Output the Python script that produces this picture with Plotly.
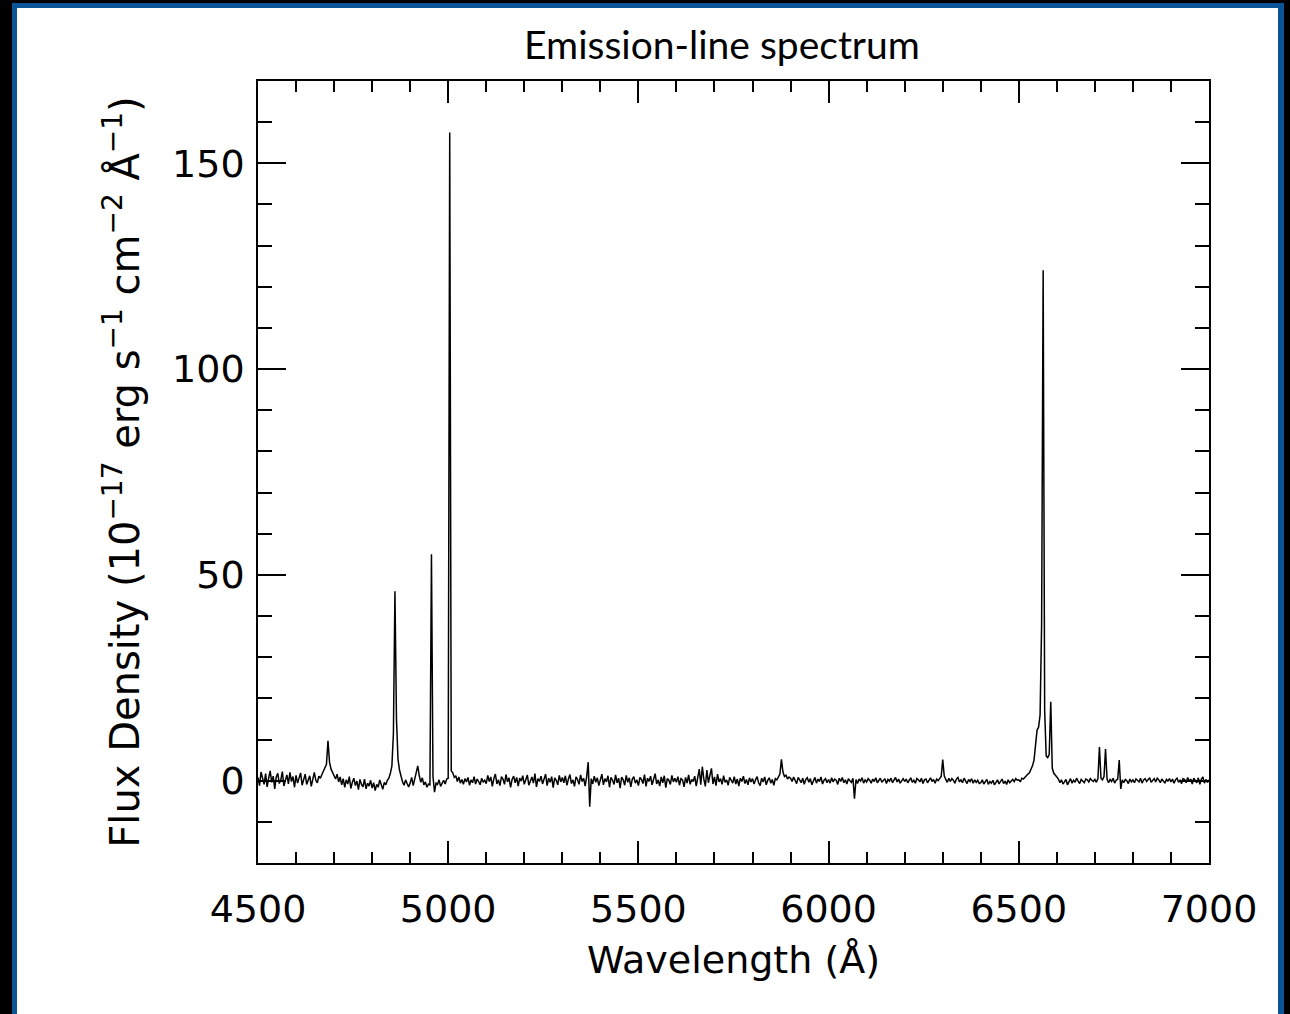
import plotly.graph_objects as go

# ---------------- data ----------------
wave_start = 4500.0   # Angstrom
wave_step = 4.0       # Angstrom per sample

flux = [
    # 4500-4596
    0.8,-1.2,2.1,0.3,-0.9,1.7,-1.5,0.6,2.4,-0.4,1.1,-2.0,0.9,1.8,-0.7,0.2,2.2,-1.3,0.5,1.4,-0.8,2.0,-0.2,1.0,-1.6,
    # 4600-4696
    1.3,-0.6,0.4,1.9,-1.1,0.7,1.6,-0.9,0.2,1.2,-1.4,0.8,2.0,0.1,-0.5,1.1,0.6,1.5,2.3,2.9,4.0,9.7,4.5,2.8,1.9,
    # 4700-4796
    1.2,0.4,1.6,-0.3,0.9,-1.0,0.5,-1.6,0.2,-0.8,1.0,-1.9,-0.4,0.6,-1.2,-0.1,-2.2,0.3,-0.9,-1.5,0.4,-2.0,-0.6,-1.3,0.1,
    # 4800-4896
    -1.8,-0.5,-2.4,-0.9,-1.6,0.2,-1.3,-2.1,-0.4,-1.0,0.1,0.6,1.8,3.6,11.5,46.0,15.0,5.2,2.6,0.9,-0.3,-1.1,0.2,-0.7,-1.5,
    # 4900-4996
    -0.6,0.8,-1.2,0.3,1.9,3.6,1.2,-0.4,0.7,-1.0,-0.3,-1.6,-0.8,-1.0,55.0,1.0,-2.8,-0.6,-0.9,0.2,-1.4,-0.6,0.1,-0.8,0.4,
    # 5000-5096
    0.6,157.5,2.4,1.9,0.8,1.2,-0.2,0.9,-0.6,0.3,-0.9,0.5,-0.3,0.8,-1.1,0.2,-0.5,1.0,-0.8,0.4,-0.2,-1.0,0.6,-0.4,0.1,
    # 5100-5196
    -0.7,1.3,-0.2,0.9,-1.4,0.5,1.6,-0.8,0.2,-1.2,1.0,0.4,-0.9,1.5,-0.3,0.7,-1.6,0.3,1.1,-0.5,0.8,-1.3,0.6,-0.1,1.2,
    # 5200-5296
    -0.9,0.4,1.4,-1.1,0.2,0.9,-0.6,1.7,-1.5,0.5,-0.2,1.1,-0.8,0.3,1.6,-1.2,0.6,-0.4,1.0,-1.7,0.7,0.1,-1.0,1.3,-0.3,
    # 5300-5396
    0.8,-0.5,1.2,-1.1,0.4,1.5,-0.7,0.2,-1.4,0.9,0.3,-0.9,1.4,-0.2,0.6,-1.3,1.0,4.5,-6.3,0.5,-0.8,1.1,-0.4,0.7,-1.2,
    # 5400-5496
    0.3,1.6,-1.0,0.5,-0.3,1.2,-1.6,0.8,0.1,-0.9,1.4,-0.5,0.6,-1.8,0.9,0.2,-1.1,1.3,-0.4,0.7,-1.5,0.4,1.0,-0.6,0.2,
    # 5500-5596
    -1.2,0.8,0.3,-0.7,1.5,-1.4,0.6,-0.2,1.1,-1.0,0.4,1.7,-0.8,0.2,-1.3,0.9,-0.5,1.2,-1.7,0.5,0.1,-0.9,1.3,-0.3,0.6,
    # 5600-5696
    -0.4,1.0,-1.1,0.5,0.2,-1.5,0.8,-0.6,1.4,-0.9,0.3,-0.2,1.1,-1.3,0.7,2.8,-1.0,3.4,0.4,-1.4,2.6,-0.5,1.3,3.0,-0.8,
    # 5700-5796
    0.9,-1.2,1.6,-0.3,0.5,-0.9,1.2,-0.4,0.2,-1.1,0.8,0.1,-0.6,1.0,-0.8,0.4,-1.3,0.6,-0.2,1.1,-0.7,0.3,-1.0,0.7,-0.3,
    # 5800-5896
    0.5,-0.8,0.2,1.0,-0.5,-1.2,0.6,-0.3,0.9,-1.0,0.1,0.7,-0.6,0.3,-1.1,0.5,0.2,0.9,1.6,5.2,2.1,1.0,1.3,0.4,0.9,
    # 5900-5996
    0.6,-0.2,0.9,0.2,-0.7,0.8,0.1,-0.5,0.6,-0.9,0.3,0.7,-0.4,0.5,-1.0,0.2,0.8,-0.6,0.4,-0.2,0.9,-0.8,0.1,0.5,-0.5,
    # 6000-6096
    0.3,-0.6,0.7,-0.3,0.4,0.1,-0.9,0.6,-0.2,0.8,-0.5,0.2,-0.8,0.5,0.0,-0.4,0.6,-4.4,0.3,-0.7,0.4,-0.1,0.7,-0.6,0.2,
    # 6100-6196
    -0.3,0.5,0.1,-0.6,0.4,-0.2,0.7,-0.5,0.2,0.6,-0.4,0.0,0.5,-0.7,0.3,-0.1,0.6,-0.5,0.2,0.8,-0.3,0.4,-0.6,0.1,0.5,
    # 6200-6296
    -0.2,0.4,-0.5,0.3,0.7,-0.4,0.1,-0.6,0.5,0.2,-0.3,0.6,-0.7,0.2,0.4,-0.5,0.1,0.7,-0.2,0.3,-0.6,0.4,0.0,0.6,1.0,
    # 6300-6396
    5.1,1.2,0.3,-0.4,0.6,-0.2,0.5,0.1,-0.6,0.4,0.8,-0.3,0.2,-0.5,0.6,0.0,-0.7,0.3,-0.2,0.5,-0.6,0.2,-0.4,0.1,-0.7,
    # 6400-6496
    -0.5,0.2,-0.8,-0.3,0.3,-0.9,-0.2,-0.6,0.1,-1.0,-0.4,0.2,-0.8,-0.3,0.4,-0.7,-0.1,-0.9,0.2,-0.5,0.0,0.3,-0.2,0.5,0.1,
    # 6500-6596
    0.2,-0.3,0.6,0.4,0.9,1.1,1.6,1.9,2.8,3.6,5.0,8.5,12.3,13.0,16.0,38.0,124.0,17.0,6.0,5.6,6.4,19.2,3.0,1.8,1.2,
    # 6600-6696
    0.9,0.4,-0.5,0.2,-0.8,-0.3,0.3,-1.0,-0.2,0.5,-0.6,0.1,-0.4,0.6,-0.1,-0.7,0.3,0.0,-0.5,0.4,0.2,-0.3,0.5,0.1,-0.2,
    # 6700-6796
    0.3,-0.4,0.5,8.2,0.6,0.2,1.0,7.7,0.4,-0.5,0.3,-0.2,0.6,-0.6,0.1,0.4,5.0,-2.0,0.2,-0.5,0.3,0.0,-0.7,0.4,-0.3,
    # 6800-6896
    0.2,-0.5,0.4,0.1,-0.3,0.6,-0.6,0.2,0.5,-0.2,0.3,0.7,-0.4,0.1,0.5,-0.3,0.6,0.2,-0.5,0.4,0.0,-0.6,0.3,-0.1,0.5,
    # 6900-6996
    -0.3,0.4,-0.6,0.2,0.6,-0.4,0.1,-0.7,0.5,0.3,-0.5,0.8,-0.2,0.4,-0.8,0.6,0.0,-0.5,0.7,-0.9,0.4,0.9,-0.6,0.3,-0.4,
    # 7000
    0.2,
]
wavelength = [wave_start + wave_step * i for i in range(len(flux))]

x_ticks = [4500, 5000, 5500, 6000, 6500, 7000]
y_ticks = [0, 50, 100, 150]

title_text = "Emission-line spectrum"
x_title = "Wavelength (Å)"
y_title = ("Flux Density (10<sup>\u221217</sup> erg s<sup>\u22121</sup> "
           "cm<sup>\u22122</sup> Å<sup>\u22121</sup>)")

# ---------------- layout geometry ----------------
W, H = 1290, 1014
L, R, T, B = 258, 81, 81, 151
PW, PH = W - L - R, H - T - B


def px_x(p):
    return (p - L) / PW


def px_y(p):
    return (H - B - p) / PH


BLUE = "#0A5497"

fig = go.Figure()
fig.add_trace(go.Scatter(
    x=wavelength, y=flux, mode="lines",
    line=dict(color="black", width=1.5),
    hoverinfo="skip", showlegend=False,
))

shapes = [
    dict(type="rect", xref="paper", yref="paper", layer="below",
         x0=px_x(12), x1=px_x(1284), y0=px_y(3), y1=px_y(1030),
         fillcolor=BLUE, line=dict(width=0)),
    dict(type="rect", xref="paper", yref="paper", layer="below",
         x0=px_x(17), x1=px_x(1278), y0=px_y(8), y1=px_y(1030),
         fillcolor="white", line=dict(width=0)),
]

axis_font = dict(family="DejaVu Sans", size=38, color="black")

fig.update_layout(
    width=W, height=H, autosize=False,
    margin=dict(l=L, r=R, t=T, b=B, pad=0),
    paper_bgcolor="black", plot_bgcolor="white",
    shapes=shapes,
    title=dict(text=title_text, xref="container", yref="container",
               x=722 / W, y=1 - 45 / H, xanchor="center", yanchor="middle",
               font=dict(family="Lato", size=39, color="black")),
    xaxis=dict(
        range=[4500, 7000], tickvals=x_ticks, ticktext=[str(v) for v in x_ticks],
        ticks="inside", ticklen=22, tickwidth=1.5, tickcolor="black",
        minor=dict(dtick=100, ticks="inside", ticklen=11, tickwidth=1.5, tickcolor="black"),
        showline=True, linecolor="black", linewidth=1.5, mirror="allticks",
        showgrid=False, zeroline=False, tickfont=axis_font,
        ticklabelstandoff=12,
        title=dict(text=x_title, font=dict(family="DejaVu Sans", size=38, color="black"),
                   standoff=16),
    ),
    yaxis=dict(
        range=[-20, 170], tickvals=y_ticks, ticktext=[str(v) for v in y_ticks],
        ticks="inside", ticklen=28, tickwidth=1.5, tickcolor="black",
        minor=dict(dtick=10, ticks="inside", ticklen=14, tickwidth=1.5, tickcolor="black"),
        showline=True, linecolor="black", linewidth=1.5, mirror="allticks",
        showgrid=False, zeroline=False, tickfont=axis_font,
        ticklabelstandoff=4,
        title=dict(text=y_title, font=dict(family="DejaVu Sans", size=40, color="black"),
                   standoff=20),
    ),
)

fig.write_html("out.html",
               config={"displayModeBar": False},
               post_script="document.body.style.margin='0';"
                           "document.body.style.overflow='hidden';")
